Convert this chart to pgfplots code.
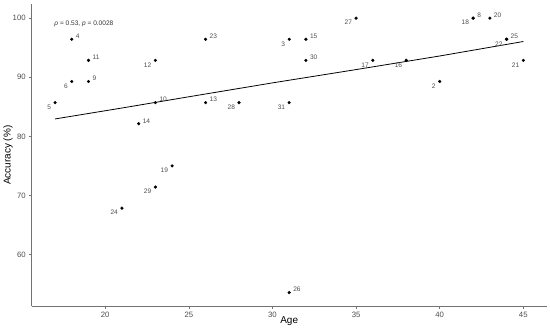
\documentclass[border=0pt]{standalone}
\usepackage{fontspec}
\setmainfont{Liberation Sans}
\usepackage{pgfplots}
\pgfplotsset{compat=1.18}
\usepackage{pgfplotstable}

\definecolor{txtgray}{HTML}{4D4D4D}

% subjects whose label sits up and to the right of the point
\pgfplotstableread{
x  y      lab
18 96.43  4
19 89.29  9
19 92.86  11
23 85.71  10
22 82.14  14
31 53.57  26
26 96.43  23
32 96.43  15
32 92.86  30
26 85.71  13
42 100.00 8
43 100.00 20
44 96.43  25
}\rightpts

% subjects whose label sits down and to the left
\pgfplotstableread{
x  y      lab
17 85.71  5
18 89.29  6
23 92.86  12
24 75.00  19
23 71.43  29
21 67.86  24
31 96.43  3
35 100.00 27
36 92.86  17
28 85.71  28
31 85.71  31
38 92.86  16
40 89.29  2
42 100.00 18
44 96.43  22
45 92.86  21
}\leftpts

\begin{document}
\begin{tikzpicture}
  \begin{axis}[
    scale only axis,
    width=517.4pt,
    height=303.7pt,
    xmin=15.6, xmax=46.4,
    ymin=51.25, ymax=102.4,
    xtick={20,25,30,35,40,45},
    ytick={60,70,80,90,100},
    axis x line*=bottom,
    axis y line*=left,
    axis line style={-, draw=black!55, line width=0.6pt},
    tick align=outside,
    major tick length=2.5pt,
    tick style={draw=black!55, line width=0.5pt},
    tick label style={font=\fontsize{7.8}{9}\selectfont, text=txtgray},
    /pgf/number format/assume math mode=true,
    xlabel={Age},
    ylabel={Accuracy (\%)},
    label style={font=\fontsize{7.5}{9}\selectfont, text=black},
    every axis x label/.style={at={(axis description cs:0.5,-0.05)}, anchor=center},
    every axis y label/.style={at={(axis description cs:-0.046,0.5)}, rotate=90, anchor=center},
    clip=false,
  ]
    % fitted trend
    \addplot[black, line width=0.8pt] coordinates {
      (17,82.95) (21,84.8) (25,86.7) (30,89.05) (35,91.3) (40,93.6) (45,96.05)
    };

    \addplot[only marks, mark=*, mark size=1.4pt, black,
      point meta=explicit symbolic, nodes near coords,
      every node near coord/.append style={anchor=west, xshift=0.6pt, yshift=3pt,
        font=\fontsize{6.6}{7}\selectfont, text=txtgray}]
      table[x=x, y=y, meta=lab] {\rightpts};

    \addplot[only marks, mark=*, mark size=1.4pt, black,
      point meta=explicit symbolic, nodes near coords,
      every node near coord/.append style={anchor=east, xshift=-0.6pt, yshift=-4.5pt,
        font=\fontsize{6.6}{7}\selectfont, text=txtgray}]
      table[x=x, y=y, meta=lab] {\leftpts};

    \node[anchor=west, font=\fontsize{6.6}{7}\selectfont, text=black!80, inner sep=0pt]
      at (axis cs:16.95,99.05) {{\itshape ρ} = 0.53, {\itshape p} = 0.0028};
  \end{axis}
  \path (current axis.south west) ++(-29.3pt,-24.3pt)
        (current axis.north east) ++(3.3pt,4pt);
\end{tikzpicture}
\end{document}
